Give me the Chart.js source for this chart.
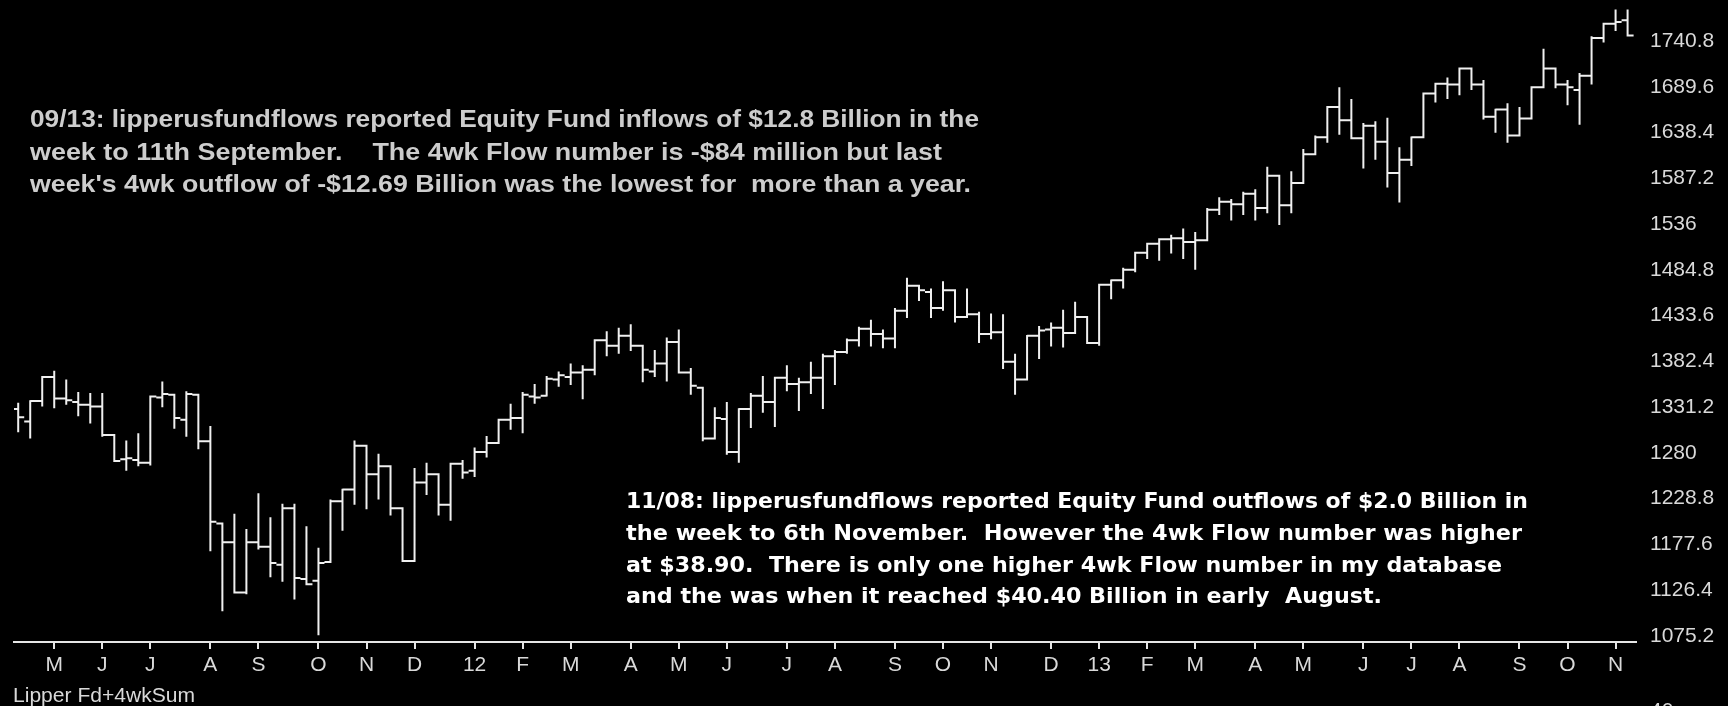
<!DOCTYPE html>
<html>
<head>
<meta charset="utf-8">
<script src="https://cdn.jsdelivr.net/npm/chart.js@4/dist/chart.umd.min.js"></script>
<style>
  html, body { margin: 0; padding: 0; background: #000; }
  #wrap { width: 1728px; height: 706px; position: relative; overflow: hidden; }
</style>
</head>
<body>
<div id="wrap"><canvas id="c" width="1728" height="706"></canvas></div>
<script>
// S&P 500 weekly bars, week ending 15 Apr 2011 through 8 Nov 2013 (index = week number)
const opens = [
  1329, 1315, 1338, 1365, 1341, 1337, 1334, 1332, 1300, 1273,
  1272, 1269, 1342, 1345, 1317, 1345, 1293, 1201, 1180, 1124,
  1180, 1175, 1155, 1218, 1139, 1137, 1158, 1226, 1239, 1288,
  1256, 1265, 1218, 1159, 1247, 1256, 1222, 1268, 1260, 1281,
  1291, 1317, 1319, 1343, 1344, 1362, 1365, 1370, 1373, 1406,
  1400, 1411, 1400, 1371, 1380, 1404, 1370, 1353, 1296, 1318,
  1281, 1329, 1344, 1337, 1364, 1357, 1359, 1364, 1388, 1393,
  1406, 1419, 1413, 1408, 1439, 1467, 1460, 1442, 1462, 1432,
  1435, 1413, 1415, 1382, 1362, 1411, 1418, 1420, 1414, 1432,
  1403, 1468, 1473, 1485, 1504, 1514, 1519, 1520, 1516, 1518,
  1552, 1561, 1558, 1570, 1554, 1590, 1557, 1582, 1614, 1633,
  1667, 1652, 1632, 1646, 1628, 1593, 1608, 1633, 1682, 1693,
  1692, 1710, 1692, 1656, 1664, 1635, 1654, 1689, 1710, 1692,
  1686, 1702, 1744, 1760, 1764
];
const highs = [
  1336, 1339, 1366, 1372, 1362, 1348, 1347, 1347, 1301, 1294,
  1302, 1343, 1360, 1346, 1349, 1346, 1310, 1201, 1212, 1195,
  1235, 1208, 1223, 1223, 1198, 1174, 1228, 1240, 1294, 1288,
  1279, 1265, 1218, 1263, 1269, 1257, 1268, 1272, 1286, 1299,
  1317, 1335, 1348, 1357, 1366, 1371, 1380, 1378, 1406, 1416,
  1420, 1424, 1400, 1395, 1409, 1418, 1375, 1353, 1331, 1337,
  1330, 1347, 1366, 1364, 1378, 1364, 1382, 1391, 1395, 1408,
  1421, 1429, 1418, 1442, 1476, 1468, 1464, 1472, 1462, 1464,
  1438, 1436, 1435, 1391, 1412, 1422, 1426, 1440, 1449, 1432,
  1468, 1474, 1487, 1505, 1515, 1520, 1524, 1531, 1527, 1554,
  1566, 1564, 1572, 1575, 1600, 1590, 1595, 1620, 1635, 1668,
  1689, 1676, 1649, 1651, 1655, 1622, 1634, 1682, 1693, 1700,
  1711, 1710, 1697, 1665, 1671, 1667, 1689, 1732, 1710, 1697,
  1705, 1746, 1760, 1776, 1776
];
const lows = [
  1303, 1296, 1332, 1330, 1334, 1321, 1313, 1298, 1270, 1260,
  1265, 1266, 1331, 1307, 1298, 1284, 1170, 1103, 1124, 1122,
  1172, 1141, 1136, 1116, 1132, 1076, 1158, 1193, 1222, 1217,
  1228, 1210, 1159, 1159, 1233, 1210, 1204, 1251, 1253, 1275,
  1291, 1306, 1302, 1335, 1343, 1354, 1356, 1340, 1367, 1388,
  1391, 1394, 1359, 1365, 1360, 1370, 1345, 1293, 1295, 1278,
  1269, 1308, 1325, 1309, 1349, 1327, 1346, 1329, 1356, 1391,
  1399, 1399, 1397, 1397, 1431, 1450, 1431, 1439, 1426, 1432,
  1403, 1407, 1374, 1345, 1362, 1385, 1399, 1398, 1413, 1402,
  1400, 1452, 1464, 1482, 1497, 1495, 1503, 1497, 1485, 1518,
  1546, 1540, 1546, 1540, 1548, 1535, 1548, 1582, 1613, 1627,
  1636, 1632, 1598, 1608, 1577, 1560, 1601, 1632, 1672, 1676,
  1680, 1686, 1653, 1638, 1627, 1634, 1654, 1689, 1688, 1669,
  1647, 1692, 1739, 1752, 1747
];
const closes = [
  1320, 1338, 1365, 1341, 1339, 1334, 1332, 1300, 1271, 1274,
  1269, 1343, 1346, 1319, 1346, 1293, 1203, 1180, 1124, 1180,
  1175, 1157, 1218, 1140, 1133, 1157, 1226, 1239, 1288, 1256,
  1265, 1218, 1159, 1247, 1256, 1222, 1268, 1258, 1281, 1291,
  1317, 1319, 1345, 1342, 1363, 1367, 1370, 1373, 1406, 1400,
  1411, 1400, 1373, 1380, 1404, 1370, 1355, 1296, 1319, 1281,
  1329, 1344, 1337, 1364, 1357, 1359, 1364, 1388, 1393, 1406,
  1419, 1413, 1408, 1439, 1467, 1462, 1442, 1462, 1432, 1435,
  1413, 1415, 1382, 1362, 1411, 1417, 1420, 1414, 1432, 1403,
  1468, 1473, 1485, 1504, 1514, 1519, 1520, 1516, 1518, 1552,
  1561, 1558, 1570, 1554, 1590, 1557, 1582, 1614, 1633, 1667,
  1652, 1632, 1646, 1628, 1593, 1608, 1633, 1682, 1693, 1692,
  1710, 1692, 1656, 1664, 1635, 1654, 1689, 1710, 1692, 1689,
  1702, 1744, 1760, 1762, 1747
];

// Week index holding the first trading day of each month, and its label
const monthTickWeeks = [
  3, 7, 11, 16, 20, 25, 29, 33,
  38, 42, 46, 51, 55, 59, 64, 68, 73, 77, 81, 86,
  90, 94, 98, 103, 107, 112, 116, 120, 125, 129, 133
];
const monthTickLabels = [
  'M', 'J', 'J', 'A', 'S', 'O', 'N', 'D',
  '12', 'F', 'M', 'A', 'M', 'J', 'J', 'A', 'S', 'O', 'N', 'D',
  '13', 'F', 'M', 'A', 'M', 'J', 'J', 'A', 'S', 'O', 'N'
];
const priceTickLabels = [
  '1075.2', '1126.4', '1177.6', '1228.8', '1280', '1331.2', '1382.4',
  '1433.6', '1484.8', '1536', '1587.2', '1638.4', '1689.6', '1740.8'
];

const noteSeptember = [
  '09/13: lipperusfundflows reported Equity Fund inflows of $12.8 Billion in the',
  'week to 11th September.    The 4wk Flow number is -$84 million but last',
  "week's 4wk outflow of -$12.69 Billion was the lowest for  more than a year."
];
const noteNovember = [
  '11/08: lipperusfundflows reported Equity Fund outflows of $2.0 Billion in',
  'the week to 6th November.  However the 4wk Flow number was higher',
  'at $38.90.  There is only one higher 4wk Flow number in my database',
  'and the was when it reached $40.40 Billion in early  August.'
];
const panelCaption = 'Lipper Fd+4wkSum';
const lowerPanelTopLabel = '40';

// One continuous path per bar: open tick (left), high-low stem, close tick (right)
const barPath = [];
opens.forEach((o, i) => {
  barPath.push(
    { x: i - 0.5, y: o }, { x: i, y: o },
    { x: i, y: highs[i] }, { x: i, y: lows[i] },
    { x: i, y: closes[i] }, { x: i + 0.5, y: closes[i] },
    { x: i + 0.5, y: null }
  );
});

const axisFont = { family: '"Liberation Sans", Arial, sans-serif', size: 21 };
const textGrey = '#d9d9d9';

// Draws a line stretched or squeezed to a given width
function fitLine(ctx, text, x, y, w) {
  const m = ctx.measureText(text).width;
  ctx.save();
  ctx.translate(x, y);
  ctx.scale(w / m, 1);
  ctx.fillText(text, 0, 0);
  ctx.restore();
}

const annotations = {
  id: 'annotations',
  afterDraw(chart) {
    const ctx = chart.ctx;
    ctx.save();
    ctx.textBaseline = 'alphabetic';
    ctx.textAlign = 'left';

    ctx.fillStyle = '#cdcdcd';
    ctx.font = 'bold 24px "Liberation Sans Narrow", "Liberation Sans", sans-serif';
    const sepBase = [127, 160, 192];
    const sepW = [949, 912, 941];
    noteSeptember.forEach((t, k) => fitLine(ctx, t, 30, sepBase[k], sepW[k]));

    ctx.fillStyle = '#ffffff';
    ctx.font = 'bold 22px "DejaVu Sans", sans-serif';
    const novBase = [508, 540, 572, 603];
    const novW = [902, 896, 876, 756];
    noteNovember.forEach((t, k) => fitLine(ctx, t, 626, novBase[k], novW[k]));

    ctx.fillStyle = textGrey;
    ctx.font = '21px "Liberation Sans", Arial, sans-serif';
    fitLine(ctx, panelCaption, 13, 702, 182);
    ctx.fillText(lowerPanelTopLabel, 1650, 717);
    ctx.restore();
  }
};

new Chart(document.getElementById('c'), {
  type: 'line',
  data: {
    datasets: [{
      data: barPath,
      borderColor: '#f0f0f0',
      borderWidth: 2,
      pointRadius: 0,
      tension: 0,
      spanGaps: false,
      fill: false,
      borderCapStyle: 'butt',
      borderJoinStyle: 'miter'
    }]
  },
  options: {
    responsive: false,
    animation: false,
    devicePixelRatio: 1,
    events: [],
    layout: { padding: { left: 14, right: 0, top: 0, bottom: 0 } },
    plugins: { legend: { display: false }, tooltip: { enabled: false } },
    scales: {
      x: {
        type: 'linear',
        min: -0.35,
        max: 134.7,
        afterBuildTicks: s => { s.ticks = monthTickWeeks.map(v => ({ value: v })); },
        afterFit: s => { s.height = 64; s.paddingLeft = 0; s.paddingRight = 0; },
        ticks: {
          callback: (v, i) => monthTickLabels[i],
          color: textGrey,
          font: axisFont,
          padding: 4,
          maxRotation: 0,
          autoSkip: false
        },
        grid: { drawOnChartArea: false, drawTicks: true, tickLength: 7, color: '#e6e6e6', lineWidth: 2 },
        border: { display: true, color: '#e6e6e6', width: 2 }
      },
      y: {
        position: 'right',
        min: 1068.5,
        max: 1786.6,
        afterBuildTicks: s => { s.ticks = priceTickLabels.map(t => ({ value: parseFloat(t) })); },
        afterFit: s => { s.width = 92; s.paddingTop = 0; s.paddingBottom = 0; },
        ticks: {
          callback: (v, i) => priceTickLabels[i],
          color: textGrey,
          font: axisFont,
          padding: 14,
          autoSkip: false
        },
        grid: { display: false, drawTicks: false },
        border: { display: false }
      }
    }
  },
  plugins: [annotations]
});
</script>
</body>
</html>
